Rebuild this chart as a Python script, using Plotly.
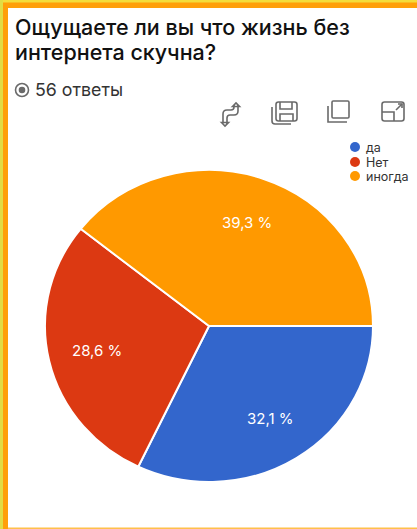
import math
import plotly.graph_objects as go

W, H = 417, 529

# Survey answers and their shares
answers = ["да", "Нет", "иногда"]
shares = [32.1, 28.6, 39.3]
colors = ["#3366CC", "#DC3912", "#FF9900"]
share_labels = [f"{v:.1f} %".replace(".", ",") for v in shares]

question_lines = ["Ощущаете ли вы что жизнь без", "интернета скучна?"]
responses = "56 ответы"

FONT = "Inter"
GREY = "#6a6a6a"

# Pie geometry in page pixels; the slices are flattened slightly in height
CX, CY, RX, RY = 209, 326, 164, 156
LABEL_RADIUS = 0.70


def px(x):
    return x / W


def py(y):
    return 1 - y / H


def box(x0, y0, x1, y1, fill, line=None, width=0, kind="rect"):
    return dict(type=kind, xref="paper", yref="paper",
                x0=px(x0), y0=py(y0), x1=px(x1), y1=py(y1),
                fillcolor=fill, line=dict(color=line or fill, width=width),
                layer="above")


def glyph(commands, width=1.6, color=GREY):
    """Icon outline from SVG-like commands given in page pixels."""
    parts = []
    for letter, *nums in commands:
        pairs = [f"{px(nums[i]):.5f},{py(nums[i + 1]):.5f}" for i in range(0, len(nums), 2)]
        parts.append(letter + " ".join(pairs))
    return dict(type="path", xref="paper", yref="paper", path=" ".join(parts),
                line=dict(color=color, width=width), layer="above")


def rounded(x0, y0, x1, y1, r=2.5):
    return glyph([
        ("M", x0 + r, y0), ("L", x1 - r, y0), ("Q", x1, y0, x1, y0 + r),
        ("L", x1, y1 - r), ("Q", x1, y1, x1 - r, y1), ("L", x0 + r, y1),
        ("Q", x0, y1, x0, y1 - r), ("L", x0, y0 + r), ("Q", x0, y0, x0 + r, y0),
    ])


fig = go.Figure(go.Pie(
    labels=answers,
    values=shares,
    sort=False,
    direction="clockwise",
    rotation=90,
    marker=dict(colors=colors, line=dict(color="#ffffff", width=2)),
    text=share_labels,
    textinfo="none",
    showlegend=False,
    hoverinfo="label+text",
    domain=dict(x=[px(CX - RX), px(CX + RX)], y=[py(CY + RX), py(CY - RX)]),
))

shapes = [
    # Frame along the top and left of the card
    box(0, 0, W, 8, "#FF9F0A"),
    box(0, 0, 8, H, "#FF9F0A"),
    box(0, 0, W, 2.5, "#F4DC3C"),
    box(0, 0, 3, H, "#E2DC44"),
    box(8, 527.5, W, H, "#FFC04A"),
    # Selected radio marker
    box(15.5, 83.5, 28.5, 96.5, "#ffffff", GREY, 1.6, "circle"),
    box(18.7, 86.7, 25.3, 93.3, GREY, kind="circle"),
    # Toolbar: switch axes
    glyph([("M", 238, 105), ("L", 238, 111), ("Q", 238, 115, 234, 115),
           ("L", 230, 115), ("Q", 227, 115, 227, 118), ("L", 227, 124)]),
    glyph([("M", 223, 122), ("L", 223, 114), ("Q", 223, 110, 227, 110),
           ("L", 231, 110), ("Q", 234, 110, 234, 107), ("L", 234, 105)]),
    glyph([("M", 232.5, 106.5), ("L", 236, 103), ("L", 239.5, 106.5), ("Z",)]),
    glyph([("M", 221.5, 122.5), ("L", 225, 126), ("L", 228.5, 122.5), ("Z",)]),
    # Toolbar: save
    rounded(276, 102, 297, 121),
    glyph([("M", 280, 102), ("L", 280, 109), ("L", 292, 109), ("L", 292, 102)]),
    glyph([("M", 280, 121), ("L", 280, 114), ("L", 293, 114), ("L", 293, 121)]),
    glyph([("M", 272, 107), ("L", 272, 121), ("Q", 272, 124, 275, 124), ("L", 291, 124)]),
    # Toolbar: copy
    rounded(332, 101, 349, 118, 1.2),
    glyph([("M", 328, 106), ("L", 328, 122), ("L", 347, 122)]),
    # Toolbar: expand
    rounded(382, 102, 404, 121),
    glyph([("M", 382, 112), ("L", 394, 112), ("L", 394, 121)]),
    glyph([("M", 396, 110), ("L", 402, 104)]),
    glyph([("M", 398, 104), ("L", 402, 104), ("L", 402, 108)]),
]

# Legend dots take the slice colours
legend_rows = [147, 162, 176]
for row, color in zip(legend_rows, colors):
    shapes.append(box(350, row - 5, 360, row + 5, color, kind="circle"))

annotations = []
for line, y in zip(question_lines, [27, 52]):
    annotations.append(dict(
        text=line, x=px(12.5), y=py(y), xanchor="left", yanchor="middle",
        showarrow=False, font=dict(family=FONT, size=21.5, weight=500, color="#111111"),
    ))
annotations.append(dict(
    text=responses, x=px(33), y=py(90), xanchor="left", yanchor="middle",
    showarrow=False, font=dict(family=FONT, size=17.8, color="#333333"),
))
for row, name in zip(legend_rows, answers):
    annotations.append(dict(
        text=name, x=px(363.5), y=py(row), xanchor="left", yanchor="middle",
        showarrow=False, font=dict(family=FONT, size=12.5, color="#333333"),
    ))

# Percentage labels sit at the middle angle of each slice
total = sum(shares)
running = 0.0
for value, label in zip(shares, share_labels):
    angle = 2 * math.pi * (running + value / 2) / total
    running += value
    annotations.append(dict(
        text=label,
        x=px(CX + LABEL_RADIUS * RX * math.cos(angle)),
        y=py(CY + LABEL_RADIUS * RY * math.sin(angle)),
        xanchor="center", yanchor="middle", showarrow=False,
        font=dict(family=FONT, size=15, color="#ffffff"),
    ))

fig.update_layout(
    width=W, height=H,
    margin=dict(l=0, r=0, t=0, b=0),
    paper_bgcolor="#ffffff",
    plot_bgcolor="#ffffff",
    shapes=shapes,
    annotations=annotations,
)

# Flatten the pie layer vertically around its centre
flatten = (
    "var layer = document.querySelector('.pielayer');"
    f"if (layer) layer.setAttribute('transform', "
    f"'translate(0 {CY}) scale(1 {RY / RX:.4f}) translate(0 {-CY})');"
)

fig.write_html("out.html", config=dict(displayModeBar=False), post_script=flatten)
